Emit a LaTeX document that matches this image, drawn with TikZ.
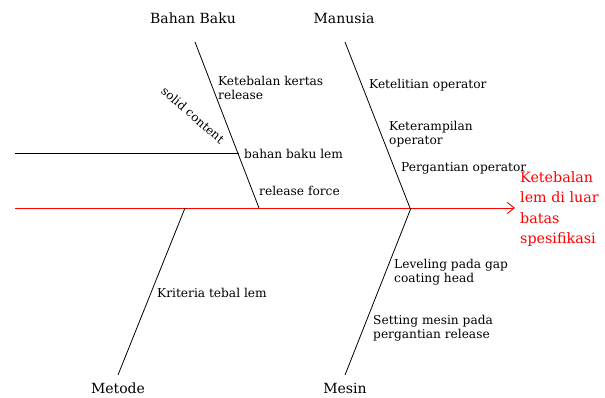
\documentclass[tikz,border=0pt]{standalone}
\usepackage{fontspec}
\setmainfont{DejaVu Serif}
\usetikzlibrary{arrows.meta}
\begin{document}
\begin{tikzpicture}[x=1pt,y=-1pt,
  bone/.style={draw=black,line width=0.8pt},
  spine/.style={draw=red,line width=0.9pt,-{Straight Barb[length=7pt,width=11pt]}},
  cat/.style={font=\fontsize{14}{16}\selectfont,inner sep=0pt},
  cause/.style={font=\fontsize{12.2}{14.5}\selectfont,inner sep=0pt,anchor=west,align=left},
  effect/.style={font=\fontsize{14.3}{20.6}\selectfont,text=red,inner sep=0pt,anchor=north west,align=left}]
\useasboundingbox (0,0) rectangle (605,398);
% spine
\coordinate (s0) at (15,208);
\coordinate (tip) at (515,208);
\draw[spine] (s0) -- (tip);
% categories
\node[cat] (bb) at (193,18) {Bahan Baku};
\node[cat] (man) at (344,18) {Manusia};
\node[cat] (met) at (118,388) {Metode};
\node[cat] (mes) at (345,388) {Mesin};
% bone end points
\coordinate (bbtop) at (195,42);
\coordinate (bbbot) at (259,208);
\coordinate (mantop) at (345,42);
\coordinate (manbot) at (410,208);
\coordinate (mettop) at (185,208);
\coordinate (metbot) at (118,375);
\coordinate (mestop) at (411,208);
\coordinate (mesbot) at (345,375);
\draw[bone] (bbtop) -- (bbbot);
\draw[bone] (mantop) -- (manbot);
\draw[bone] (mettop) -- (metbot);
\draw[bone] (mestop) -- (mesbot);
% sub bone
\coordinate (lem0) at (15,153);
\coordinate (lem1) at (239,153);
\draw[bone] (lem0) -- (lem1);
% causes
\node[cause] (c1) at (218,88) {Ketebalan kertas\\release};
\node[font=\fontsize{12}{13}\selectfont,inner sep=0pt,rotate=-41] (c2) at (193,115) {solid content};
\node[cause] (c3) at (244,154) {bahan baku lem};
\node[cause] (c4) at (259,191) {release force};
\node[cause] (c5) at (369,85) {Ketelitian operator};
\node[cause] (c6) at (389,134) {Keterampilan\\operator};
\node[cause] (c7) at (401,168) {Pergantian operator};
\node[cause] (c8) at (394,272) {Leveling pada gap\\coating head};
\node[cause] (c9) at (157,293) {Kriteria tebal lem};
\node[cause] (c10) at (373,328) {Setting mesin pada\\pergantian release};
% effect
\node[effect] (eff) at (520,171) {Ketebalan\\lem di luar\\batas\\spesifikasi};
\end{tikzpicture}
\end{document}
